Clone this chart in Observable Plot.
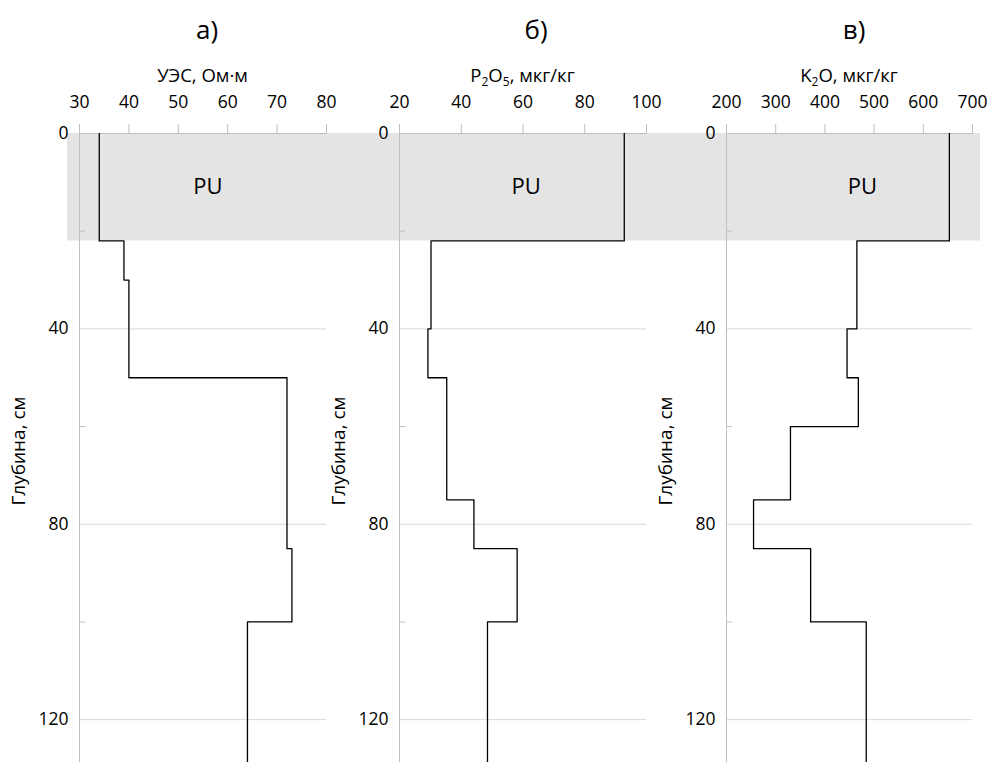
<!DOCTYPE html>
<html>
<head>
<meta charset="utf-8">
<script src="https://cdn.jsdelivr.net/npm/d3@7"></script>
<script src="https://cdn.jsdelivr.net/npm/@observablehq/plot@0.6"></script>
<style>
  html, body { margin: 0; padding: 0; background: #fff; overflow: hidden; }
  #wrap { position: relative; width: 990px; height: 762px; overflow: hidden; font-family: "Open Sans", sans-serif; color: #000; }
  .panel { position: absolute; top: 0; width: 330px; height: 768px; }
  .head { position: relative; height: 88px; }
  .ptitle { position: absolute; top: 12px; line-height: 34px; font-size: 26px; transform: translateX(-50%); white-space: nowrap; }
  .xlabel { position: absolute; top: 62px; line-height: 26px; font-size: 18.5px; transform: translateX(-50%); white-space: nowrap; }
  .xlabel sub { font-size: 12px; vertical-align: -4px; line-height: 0; }
  .panel svg { display: block; overflow: visible; }
</style>
</head>
<body>
<div id="wrap"></div>
<script>
// ---------- data ----------
const depthDomain = [0, 130];
const depthMajorTicks = [0, 40, 80, 120];
const depthMinorTicks = [20, 60, 100];
const depthTitle = "Глубина, см";
const puLayer = [0, 22];
const puLabel = "PU";
const puLabelDepth = 11;

const panelTitles = ["а)", "б)", "в)"];

const uesTitle = "УЭС, Ом·м";
const uesDomain = [30, 80];
const uesTicks = [30, 40, 50, 60, 70, 80];
const uesDepth = [0, 22, 30, 50, 85, 100, 130];
const uesValues = [34, 39, 40, 72, 73, 64];
const uesPuX = 56;

const p2o5Title = "P<sub>2</sub>O<sub>5</sub>, мкг/кг";
const p2o5Domain = [20, 100];
const p2o5Ticks = [20, 40, 60, 80, 100];
const p2o5Depth = [0, 22, 40, 50, 75, 85, 100, 130];
const p2o5Values = [92.8, 30.2, 29.2, 35.3, 44.1, 58.1, 48.5];
const p2o5PuX = 61;

const k2oTitle = "K<sub>2</sub>O, мкг/кг";
const k2oDomain = [200, 700];
const k2oTicks = [200, 300, 400, 500, 600, 700];
const k2oDepth = [0, 22, 40, 50, 60, 75, 85, 100, 130];
const k2oValues = [653, 465, 445, 468, 330, 255, 371, 484];
const k2oPuX = 476;

// ---------- layout ----------
const PW = 330, SVG_H = 680, MT = 45;
const panels = [
  { left: 0,   ml: 79, mr: 4,  bandL: 12, bandR: 4,  titleX: 207, title: panelTitles[0], xTitle: uesTitle,  domain: uesDomain,  ticks: uesTicks,  depth: uesDepth,  values: uesValues,  puX: uesPuX },
  { left: 330, ml: 69, mr: 14, bandL: 69, bandR: 14, titleX: 536, title: panelTitles[1], xTitle: p2o5Title, domain: p2o5Domain, ticks: p2o5Ticks, depth: p2o5Depth, values: p2o5Values, puX: p2o5PuX },
  { left: 660, ml: 66, mr: 18, bandL: 66, bandR: 8,  titleX: 854, title: panelTitles[2], xTitle: k2oTitle,  domain: k2oDomain,  ticks: k2oTicks,  depth: k2oDepth,  values: k2oValues,  puX: k2oPuX }
];

const wrap = document.getElementById("wrap");
const GRAY_AXIS = "#bfbfbf", GRAY_GRID = "#d9d9d9", BAND = "#e4e4e4";

panels.forEach(p => {
  const pts = [];
  p.values.forEach((v, i) => { pts.push({ x: v, y: p.depth[i] }); pts.push({ x: v, y: p.depth[i + 1] }); });
  const frameW = PW - p.ml - p.mr;

  const div = document.createElement("div");
  div.className = "panel";
  div.style.left = p.left + "px";
  const head = document.createElement("div");
  head.className = "head";
  const t = document.createElement("div");
  t.className = "ptitle"; t.textContent = p.title; t.style.left = (p.titleX - p.left) + "px";
  const xl = document.createElement("div");
  xl.className = "xlabel"; xl.innerHTML = p.xTitle; xl.style.left = (p.ml + frameW / 2) + "px";
  head.appendChild(t); head.appendChild(xl);
  div.appendChild(head);

  const chart = Plot.plot({
    width: PW, height: SVG_H,
    marginTop: MT, marginBottom: 0, marginLeft: p.ml, marginRight: p.mr,
    style: { fontFamily: "Open Sans, sans-serif", fontSize: "17.5px", color: "#000", background: "transparent", overflow: "visible" },
    x: { domain: p.domain, axis: null },
    y: { domain: depthDomain, reverse: true, axis: null },
    marks: [
      Plot.rect([puLayer], { y1: d => d[0], y2: d => d[1], fill: BAND, insetLeft: -p.bandL, insetRight: -p.bandR }),
      Plot.gridY(depthMajorTicks.filter(d => d > 0), { stroke: GRAY_GRID, strokeOpacity: 1 }),
      Plot.tickY(depthMinorTicks, { y: d => d, stroke: GRAY_AXIS, insetRight: frameW - 6 }),
      Plot.ruleY([depthDomain[0]], { stroke: GRAY_AXIS }),
      Plot.ruleX([p.domain[0]], { stroke: GRAY_AXIS }),
      Plot.axisX({ anchor: "top", ticks: p.ticks, tickSize: 10, tickPadding: 16, stroke: GRAY_AXIS, fill: "#000", label: null }),
      Plot.axisY({ anchor: "left", ticks: depthMajorTicks, tickSize: 0, tickPadding: 11, fill: "#000", label: null }),
      Plot.line(pts, { x: "x", y: "y", stroke: "#000", strokeWidth: 1.3 }),
      Plot.text([{ label: puLabel, x: p.puX, y: puLabelDepth }], { x: "x", y: "y", text: "label", fontSize: 22, fill: "#000", textAnchor: "middle", lineAnchor: "middle" }),
      Plot.text([depthTitle], { text: d => d, frameAnchor: "left", rotate: -90, dx: -60.7, fontSize: 19, fill: "#000", textAnchor: "middle", lineAnchor: "middle" })
    ]
  });
  div.appendChild(chart);
  wrap.appendChild(div);
});
</script>
</body>
</html>
